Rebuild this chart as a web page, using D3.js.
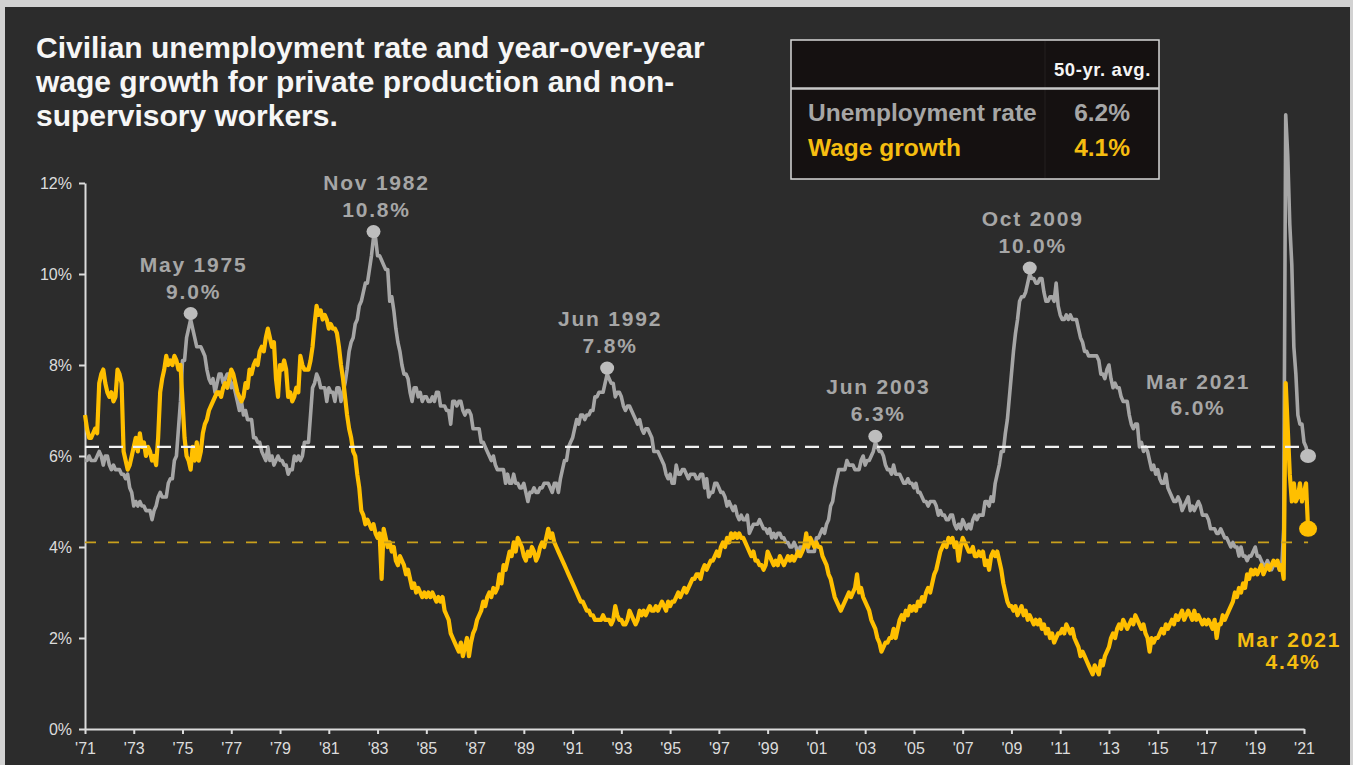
<!DOCTYPE html>
<html>
<head>
<meta charset="utf-8">
<script src="https://cdn.jsdelivr.net/npm/d3@7"></script>
<style>
  html, body { margin: 0; padding: 0; background: #d2d2d2; }
  svg { display: block; }
  text { font-family: "Liberation Sans", Arial, Helvetica, sans-serif; }
</style>
</head>
<body>
<svg id="chart" width="1353" height="765"></svg>
<script>
// ---- Data: monthly series starting January 1971 ----
const startYear = 1971;

// Civilian unemployment rate, %
const unemployment = [
  5.9, 5.9, 6.0, 5.9, 5.9, 5.9, 6.0, 6.1, 6.0, 5.8, 6.0, 6.0,   // 1971
  5.8, 5.7, 5.8, 5.7, 5.7, 5.7, 5.6, 5.6, 5.5, 5.6, 5.3, 5.2,   // 1972
  4.9, 5.0, 4.9, 5.0, 4.9, 4.9, 4.8, 4.8, 4.8, 4.6, 4.8, 4.9,   // 1973
  5.1, 5.2, 5.1, 5.1, 5.1, 5.4, 5.5, 5.5, 5.9, 6.0, 6.6, 7.2,   // 1974
  8.1, 8.1, 8.6, 8.8, 9.0, 8.8, 8.6, 8.4, 8.4, 8.4, 8.3, 8.2,   // 1975
  7.9, 7.7, 7.6, 7.7, 7.4, 7.6, 7.8, 7.8, 7.6, 7.7, 7.8, 7.8,   // 1976
  7.5, 7.6, 7.4, 7.2, 7.0, 7.2, 6.9, 7.0, 6.8, 6.8, 6.8, 6.4,   // 1977
  6.4, 6.3, 6.3, 6.1, 6.0, 5.9, 6.2, 5.9, 6.0, 5.8, 5.9, 6.0,   // 1978
  5.9, 5.9, 5.8, 5.8, 5.6, 5.7, 5.7, 6.0, 5.9, 6.0, 5.9, 6.0,   // 1979
  6.3, 6.3, 6.3, 6.9, 7.5, 7.6, 7.8, 7.7, 7.5, 7.5, 7.5, 7.2,   // 1980
  7.5, 7.4, 7.4, 7.2, 7.5, 7.5, 7.2, 7.4, 7.6, 7.9, 8.3, 8.5,   // 1981
  8.6, 8.9, 9.0, 9.3, 9.4, 9.6, 9.8, 9.8, 10.1, 10.4, 10.8, 10.8, // 1982
  10.4, 10.4, 10.3, 10.2, 10.1, 10.1, 9.4, 9.5, 9.2, 8.8, 8.5, 8.3, // 1983
  8.0, 7.8, 7.8, 7.7, 7.4, 7.2, 7.5, 7.5, 7.3, 7.4, 7.2, 7.3,   // 1984
  7.3, 7.2, 7.2, 7.3, 7.2, 7.4, 7.4, 7.1, 7.1, 7.1, 7.0, 7.0,   // 1985
  6.7, 7.2, 7.2, 7.1, 7.2, 7.2, 7.0, 6.9, 7.0, 7.0, 6.9, 6.6,   // 1986
  6.6, 6.6, 6.6, 6.3, 6.3, 6.2, 6.1, 6.0, 5.9, 6.0, 5.8, 5.7,   // 1987
  5.7, 5.7, 5.7, 5.4, 5.6, 5.4, 5.4, 5.6, 5.4, 5.4, 5.3, 5.3,   // 1988
  5.4, 5.2, 5.0, 5.2, 5.2, 5.3, 5.2, 5.2, 5.3, 5.3, 5.4, 5.4,   // 1989
  5.4, 5.3, 5.2, 5.4, 5.4, 5.2, 5.5, 5.7, 5.9, 5.9, 6.2, 6.3,   // 1990
  6.4, 6.6, 6.8, 6.7, 6.9, 6.9, 6.8, 6.9, 6.9, 7.0, 7.0, 7.3,   // 1991
  7.3, 7.4, 7.4, 7.4, 7.6, 7.8, 7.7, 7.6, 7.6, 7.3, 7.4, 7.4,   // 1992
  7.3, 7.1, 7.0, 7.1, 7.1, 7.0, 6.9, 6.8, 6.7, 6.8, 6.6, 6.5,   // 1993
  6.6, 6.6, 6.5, 6.4, 6.1, 6.1, 6.1, 6.0, 5.9, 5.8, 5.6, 5.5,   // 1994
  5.6, 5.4, 5.4, 5.8, 5.6, 5.6, 5.7, 5.7, 5.6, 5.5, 5.6, 5.6,   // 1995
  5.6, 5.5, 5.5, 5.6, 5.6, 5.3, 5.5, 5.1, 5.2, 5.2, 5.4, 5.4,   // 1996
  5.3, 5.2, 5.2, 5.1, 4.9, 5.0, 4.9, 4.8, 4.9, 4.7, 4.6, 4.7,   // 1997
  4.6, 4.6, 4.7, 4.3, 4.4, 4.5, 4.5, 4.5, 4.6, 4.5, 4.4, 4.4,   // 1998
  4.3, 4.4, 4.2, 4.3, 4.2, 4.3, 4.3, 4.2, 4.2, 4.1, 4.1, 4.0,   // 1999
  4.0, 4.1, 4.0, 3.8, 4.0, 4.0, 4.0, 4.1, 3.9, 3.9, 3.9, 3.9,   // 2000
  4.2, 4.2, 4.3, 4.4, 4.3, 4.5, 4.6, 4.9, 5.0, 5.3, 5.5, 5.7,   // 2001
  5.7, 5.7, 5.7, 5.9, 5.8, 5.8, 5.8, 5.7, 5.7, 5.7, 5.9, 6.0,   // 2002
  5.8, 5.9, 5.9, 6.0, 6.1, 6.3, 6.2, 6.1, 6.1, 6.0, 5.8, 5.7,   // 2003
  5.7, 5.6, 5.8, 5.6, 5.6, 5.6, 5.5, 5.4, 5.4, 5.5, 5.4, 5.4,   // 2004
  5.3, 5.4, 5.2, 5.2, 5.1, 5.0, 5.0, 4.9, 5.0, 5.0, 5.0, 4.9,   // 2005
  4.7, 4.8, 4.7, 4.7, 4.6, 4.6, 4.7, 4.7, 4.5, 4.4, 4.5, 4.4,   // 2006
  4.6, 4.5, 4.4, 4.5, 4.4, 4.6, 4.7, 4.6, 4.7, 4.7, 4.7, 5.0,   // 2007
  5.0, 4.9, 5.1, 5.0, 5.4, 5.6, 5.8, 6.1, 6.1, 6.5, 6.8, 7.3,   // 2008
  7.8, 8.3, 8.7, 9.0, 9.4, 9.5, 9.5, 9.6, 9.8, 10.0, 9.9, 9.9,  // 2009
  9.8, 9.8, 9.9, 9.9, 9.6, 9.4, 9.4, 9.5, 9.5, 9.4, 9.8, 9.3,   // 2010
  9.1, 9.0, 9.0, 9.1, 9.0, 9.1, 9.0, 9.0, 9.0, 8.8, 8.6, 8.5,   // 2011
  8.3, 8.3, 8.2, 8.2, 8.2, 8.2, 8.2, 8.1, 7.8, 7.8, 7.7, 7.9,   // 2012
  8.0, 7.7, 7.5, 7.6, 7.5, 7.5, 7.3, 7.2, 7.2, 7.2, 6.9, 6.7,   // 2013
  6.6, 6.7, 6.7, 6.2, 6.3, 6.1, 6.2, 6.1, 5.9, 5.7, 5.8, 5.6,   // 2014
  5.7, 5.5, 5.4, 5.4, 5.6, 5.3, 5.2, 5.1, 5.0, 5.0, 5.1, 5.0,   // 2015
  4.8, 4.9, 5.0, 5.1, 4.8, 4.9, 4.8, 4.9, 5.0, 4.9, 4.7, 4.7,   // 2016
  4.7, 4.6, 4.4, 4.4, 4.4, 4.3, 4.3, 4.4, 4.3, 4.2, 4.2, 4.1,   // 2017
  4.0, 4.1, 4.0, 4.0, 3.8, 4.0, 3.8, 3.8, 3.7, 3.8, 3.8, 3.9,   // 2018
  4.0, 3.8, 3.8, 3.7, 3.6, 3.6, 3.7, 3.6, 3.5, 3.6, 3.6, 3.6,   // 2019
  3.5, 3.5, 4.4, 13.5, 12.6, 11.1, 10.2, 8.4, 7.8, 6.9, 6.7, 6.7, // 2020
  6.3, 6.2, 6.0                                                  // 2021
];

// Year-over-year wage growth, private production & non-supervisory workers, %
const wageGrowth = [
  6.9, 6.6, 6.4, 6.4, 6.5, 6.6, 6.5, 7.6, 7.8, 7.9, 7.6, 7.4,   // 1971
  7.3, 7.4, 7.2, 7.3, 7.9, 7.8, 7.6, 6.1, 5.9, 5.7, 5.8, 6.0,   // 1972
  6.2, 6.4, 6.1, 6.5, 6.2, 6.3, 6.0, 6.2, 6.1, 5.9, 6.0, 5.8,   // 1973
  6.4, 7.4, 7.7, 7.9, 8.2, 8.0, 8.1, 8.0, 8.2, 8.1, 7.9, 8.0,   // 1974
  7.2, 6.4, 6.0, 5.9, 5.7, 6.2, 5.9, 6.3, 5.9, 6.1, 6.5, 6.7,   // 1975
  6.8, 7.0, 7.1, 7.2, 7.3, 7.4, 7.4, 7.3, 7.5, 7.6, 7.5, 7.7,   // 1976
  7.9, 7.8, 7.6, 7.4, 7.3, 7.2, 7.3, 7.6, 7.5, 7.9, 7.8, 8.0,   // 1977
  8.1, 8.0, 8.3, 8.4, 8.3, 8.6, 8.8, 8.6, 8.4, 8.5, 7.7, 7.3,   // 1978
  8.0, 7.9, 8.1, 7.9, 7.3, 7.4, 7.2, 7.3, 7.5, 7.4, 8.2, 8.0,   // 1979
  7.9, 7.9, 7.9, 8.1, 8.4, 8.9, 9.3, 9.1, 9.2, 9.0, 9.1, 9.0,   // 1980
  8.8, 8.9, 8.8, 8.8, 8.7, 8.4, 8.0, 7.7, 7.3, 6.9, 6.6, 6.4,   // 1981
  6.1, 6.0, 5.6, 5.3, 4.8, 4.7, 4.5, 4.6, 4.5, 4.4, 4.5, 4.3,   // 1982
  4.2, 4.3, 3.3, 4.4, 4.2, 4.0, 4.1, 3.9, 4.0, 3.7, 3.6, 3.8,   // 1983
  3.7, 3.6, 3.4, 3.5, 3.3, 3.1, 3.2, 3.0, 3.1, 3.0, 2.9, 3.0,   // 1984
  2.9, 3.0, 2.9, 3.0, 2.9, 2.8, 2.9, 2.8, 2.9, 2.6, 2.5, 2.4,   // 1985
  2.1, 2.0, 1.9, 1.8, 1.7, 1.9, 1.6, 1.8, 2.0, 1.6, 1.9, 2.1,   // 1986
  2.2, 2.4, 2.5, 2.6, 2.8, 2.7, 2.9, 3.0, 2.9, 3.1, 3.0, 3.1,   // 1987
  3.4, 3.2, 3.6, 3.5, 3.7, 3.9, 3.8, 4.1, 3.9, 4.2, 4.1, 4.0,   // 1988
  3.8, 3.7, 3.9, 3.8, 4.0, 3.9, 3.7, 3.8, 4.0, 4.1, 4.0, 4.2,   // 1989
  4.4, 4.2, 4.3, 4.1, 4.0, 3.9, 3.8, 3.7, 3.6, 3.5, 3.4, 3.3,   // 1990
  3.2, 3.1, 3.0, 2.9, 2.8, 2.8, 2.7, 2.6, 2.6, 2.5, 2.5, 2.4,   // 1991
  2.4, 2.4, 2.4, 2.5, 2.4, 2.4, 2.4, 2.3, 2.4, 2.7, 2.5, 2.4,   // 1992
  2.4, 2.3, 2.3, 2.4, 2.6, 2.5, 2.4, 2.3, 2.4, 2.6, 2.5, 2.6,   // 1993
  2.5, 2.6, 2.7, 2.6, 2.6, 2.7, 2.6, 2.7, 2.8, 2.7, 2.6, 2.8,   // 1994
  2.7, 2.8, 2.8, 2.9, 3.0, 2.9, 3.0, 3.1, 3.0, 3.1, 3.2, 3.3,   // 1995
  3.3, 3.4, 3.4, 3.3, 3.5, 3.6, 3.5, 3.6, 3.7, 3.7, 3.8, 3.9,   // 1996
  3.8, 4.0, 4.1, 4.0, 4.2, 4.1, 4.3, 4.2, 4.3, 4.2, 4.3, 4.2,   // 1997
  4.2, 4.1, 4.0, 3.9, 3.8, 3.9, 3.7, 3.7, 3.6, 3.6, 3.5, 3.6,   // 1998
  3.9, 3.8, 3.7, 3.6, 3.7, 3.6, 3.8, 3.7, 3.6, 3.7, 3.8, 3.7,   // 1999
  3.8, 3.7, 3.8, 3.9, 3.8, 3.9, 4.0, 4.3, 4.0, 4.2, 4.1, 4.0,   // 2000
  4.1, 4.0, 4.0, 3.8, 3.7, 3.6, 3.4, 3.3, 3.1, 2.9, 2.8, 2.7,   // 2001
  2.6, 2.7, 2.8, 2.9, 3.0, 2.9, 3.0, 3.1, 3.4, 3.0, 3.1, 2.9,   // 2002
  2.8, 2.7, 2.6, 2.4, 2.3, 2.2, 2.0, 1.9, 1.7, 1.8, 1.9, 1.9,   // 2003
  2.0, 2.0, 2.2, 2.0, 2.2, 2.4, 2.5, 2.4, 2.6, 2.5, 2.7, 2.6,   // 2004
  2.7, 2.6, 2.8, 2.7, 2.9, 2.8, 3.0, 3.1, 3.0, 3.2, 3.4, 3.5,   // 2005
  3.7, 3.9, 4.0, 4.1, 4.0, 4.2, 4.1, 4.2, 4.0, 4.1, 3.7, 4.0,   // 2006
  4.2, 4.1, 4.0, 3.9, 3.9, 4.0, 3.8, 3.8, 3.9, 3.8, 3.9, 3.6,   // 2007
  3.7, 3.5, 3.8, 3.9, 3.8, 3.9, 3.7, 3.5, 3.2, 3.0, 2.8, 2.7,   // 2008
  2.7, 2.6, 2.7, 2.5, 2.6, 2.7, 2.5, 2.6, 2.4, 2.5, 2.4, 2.3,   // 2009
  2.4, 2.3, 2.4, 2.2, 2.3, 2.1, 2.2, 2.0, 2.1, 1.9, 2.0, 2.1,   // 2010
  2.1, 2.2, 2.1, 2.3, 2.2, 2.1, 2.2, 2.0, 1.9, 1.8, 1.6, 1.7,   // 2011
  1.6, 1.5, 1.4, 1.3, 1.2, 1.4, 1.3, 1.2, 1.5, 1.4, 1.6, 1.7,   // 2012
  1.8, 2.0, 2.1, 2.0, 2.2, 2.3, 2.2, 2.4, 2.3, 2.2, 2.3, 2.4,   // 2013
  2.3, 2.5, 2.4, 2.3, 2.2, 2.3, 2.1, 2.0, 1.7, 2.0, 1.9, 2.0,   // 2014
  2.0, 2.1, 2.2, 2.1, 2.3, 2.2, 2.3, 2.4, 2.3, 2.5, 2.4, 2.5,   // 2015
  2.6, 2.4, 2.5, 2.6, 2.5, 2.4, 2.6, 2.4, 2.5, 2.4, 2.3, 2.4,   // 2016
  2.3, 2.4, 2.3, 2.2, 2.4, 2.0, 2.3, 2.3, 2.5, 2.4, 2.5, 2.6,   // 2017
  2.7, 2.8, 3.0, 2.9, 3.1, 3.0, 3.2, 3.1, 3.4, 3.3, 3.5, 3.4,   // 2018
  3.5, 3.4, 3.5, 3.6, 3.4, 3.5, 3.6, 3.5, 3.6, 3.7, 3.6, 3.7,   // 2019
  3.5, 3.6, 3.3, 7.6, 6.6, 5.6, 5.0, 5.4, 5.0, 5.1, 5.4, 5.0,   // 2020
  5.2, 5.4, 4.4                                                  // 2021
];

// 50-year averages
const averageLabels = ["Unemployment rate", "Wage growth"];
const averageValues = [6.2, 4.1];

// Axis ticks
const yTicks = [0, 2, 4, 6, 8, 10, 12];
const xTickYears = [1971, 1973, 1975, 1977, 1979, 1981, 1983, 1985, 1987, 1989,
  1991, 1993, 1995, 1997, 1999, 2001, 2003, 2005, 2007, 2009,
  2011, 2013, 2015, 2017, 2019, 2021];

// Unemployment peaks that get a marker and a label
const peakNames = ["May 1975", "Nov 1982", "Jun 1992", "Jun 2003", "Oct 2009"];
const peakYears = [1975, 1982, 1992, 2003, 2009];
const peakMonths = [5, 11, 6, 6, 10];

const lastLabel = "Mar 2021";

const titleLines = [
  "Civilian unemployment rate and year-over-year",
  "wage growth for private production and non-",
  "supervisory workers."
];

// ---- Drawing ----
const GRAY = "#a6a6a6";
const GOLD = "#ffbf00";
const GOLD_TEXT = "#f5bd10";
const AXIS = "#dcdcdc";

const svg = d3.select("#chart");

// dark panel with light frame
svg.append("rect").attr("x", 0).attr("y", 0).attr("width", 1353).attr("height", 765).attr("fill", "#d2d2d2");
svg.append("rect").attr("x", 5).attr("y", 7).attr("width", 1345).attr("height", 758).attr("fill", "#2c2c2c");

const monthIndex = (year, month) => (year - startYear) * 12 + (month - 1);
const timeOf = i => startYear + i / 12;

const x = d3.scaleLinear().domain([1971, 2021]).range([85, 1304]);
const y = d3.scaleLinear().domain([0, 12]).range([729, 183]);

// title
svg.append("g").selectAll("text")
  .data(titleLines)
  .join("text")
  .attr("x", 36)
  .attr("y", (d, i) => 58 + i * 34)
  .attr("fill", "#f6f6f6")
  .attr("font-size", 30)
  .attr("font-weight", "bold")
  .text(d => d);

// axes
const yAxis = svg.append("g")
  .attr("transform", "translate(85,0)")
  .call(d3.axisLeft(y).tickValues(yTicks).tickFormat(d => d + "%").tickSize(6).tickSizeOuter(0).tickPadding(7));
const xAxis = svg.append("g")
  .attr("transform", "translate(0,729)")
  .call(d3.axisBottom(x).tickValues(xTickYears).tickFormat(d => "'" + String(d).slice(2)).tickSize(5).tickSizeOuter(0).tickPadding(9));
[yAxis, xAxis].forEach(g => {
  g.select(".domain").attr("stroke", AXIS).attr("stroke-width", 2);
  g.selectAll(".tick line").attr("stroke", AXIS).attr("stroke-width", 2);
  g.selectAll(".tick text")
    .attr("fill", AXIS)
    .attr("font-size", 16)
    .attr("font-family", "'Liberation Sans', Arial, sans-serif");
});

// series lines
const unempPts = unemployment.map((v, i) => [timeOf(i), v]);
const wagePts = wageGrowth.map((v, i) => [timeOf(i), v]);
const line = d3.line().x(d => x(d[0])).y(d => y(d[1])).curve(d3.curveLinear);

svg.append("path")
  .datum(unempPts)
  .attr("d", line)
  .attr("fill", "none")
  .attr("stroke", GRAY)
  .attr("stroke-width", 3.6)
  .attr("stroke-linejoin", "round");

svg.append("path")
  .datum(wagePts)
  .attr("d", line)
  .attr("fill", "none")
  .attr("stroke", GOLD)
  .attr("stroke-width", 4.2)
  .attr("stroke-linejoin", "round");

// 50-year average reference lines
const endT = timeOf(unemployment.length - 1);
svg.append("line")
  .attr("x1", x(1971)).attr("x2", x(endT) - 6)
  .attr("y1", y(averageValues[0])).attr("y2", y(averageValues[0]))
  .attr("stroke", "#f2f2f2").attr("stroke-width", 2.2)
  .attr("stroke-dasharray", "14 10");
svg.append("line")
  .attr("x1", x(1971)).attr("x2", x(endT))
  .attr("y1", y(averageValues[1])).attr("y2", y(averageValues[1]))
  .attr("stroke", "#c9a01c").attr("stroke-width", 1.8)
  .attr("stroke-dasharray", "11 12");

// peak markers and labels
const labelFont = { size: 21, spacing: 1.8 };
peakNames.forEach((name, k) => {
  const i = monthIndex(peakYears[k], peakMonths[k]);
  const v = unemployment[i];
  const cx = x(timeOf(i));
  const cy = y(v);
  svg.append("ellipse")
    .attr("cx", cx).attr("cy", cy - 6)
    .attr("rx", 7).attr("ry", 6.5)
    .attr("fill", "#bdbdbd");
  const g = svg.append("g")
    .attr("fill", GRAY)
    .attr("font-size", labelFont.size)
    .attr("font-weight", "bold")
    .attr("letter-spacing", labelFont.spacing)
    .attr("text-anchor", "middle");
  g.append("text").attr("x", cx + 3).attr("y", cy - 48).text(name);
  g.append("text").attr("x", cx + 3).attr("y", cy - 21).text(v.toFixed(1) + "%");
});

// last observation markers
const lastI = unemployment.length - 1;
const lastX = x(timeOf(lastI));
const uLast = unemployment[lastI];
const wLast = wageGrowth[lastI];

svg.append("ellipse")
  .attr("cx", lastX).attr("cy", y(uLast))
  .attr("rx", 8).attr("ry", 7)
  .attr("fill", "#bdbdbd");
svg.append("ellipse")
  .attr("cx", lastX).attr("cy", y(wLast))
  .attr("rx", 9).attr("ry", 8)
  .attr("fill", GOLD);

const gl = svg.append("g")
  .attr("fill", GRAY)
  .attr("font-size", labelFont.size)
  .attr("font-weight", "bold")
  .attr("letter-spacing", labelFont.spacing)
  .attr("text-anchor", "middle");
gl.append("text").attr("x", lastX - 110).attr("y", y(uLast) - 67).text(lastLabel);
gl.append("text").attr("x", lastX - 110).attr("y", y(uLast) - 41).text(uLast.toFixed(1) + "%");

const wl = svg.append("g")
  .attr("fill", GOLD_TEXT)
  .attr("font-size", labelFont.size)
  .attr("font-weight", "bold")
  .attr("letter-spacing", labelFont.spacing)
  .attr("text-anchor", "middle");
wl.append("text").attr("x", lastX - 19).attr("y", y(wLast) + 118).text(lastLabel);
wl.append("text").attr("x", lastX - 15).attr("y", y(wLast) + 140).text(wLast.toFixed(1) + "%");

// averages table
const box = svg.append("g");
box.append("rect")
  .attr("x", 791).attr("y", 40).attr("width", 368).attr("height", 139)
  .attr("fill", "#151111").attr("stroke", "#d6d6d6").attr("stroke-width", 1.5);
box.append("line")
  .attr("x1", 1045).attr("x2", 1045).attr("y1", 41).attr("y2", 178)
  .attr("stroke", "#242020").attr("stroke-width", 1);
box.append("line")
  .attr("x1", 791).attr("x2", 1159).attr("y1", 88.5).attr("y2", 88.5)
  .attr("stroke", "#c8c8c8").attr("stroke-width", 2.5);
box.append("text")
  .attr("x", 1151).attr("y", 76)
  .attr("text-anchor", "end")
  .attr("fill", "#f4f4f4")
  .attr("font-size", 18.5)
  .attr("font-weight", "bold")
  .attr("letter-spacing", 0.6)
  .text("50-yr. avg.");
const rowColors = [GRAY, GOLD_TEXT];
averageLabels.forEach((lab, k) => {
  box.append("text")
    .attr("x", 808).attr("y", 121 + k * 35)
    .attr("fill", rowColors[k])
    .attr("font-size", 24.5)
    .attr("font-weight", "bold")
    .text(lab);
  box.append("text")
    .attr("x", 1130).attr("y", 121 + k * 35)
    .attr("text-anchor", "end")
    .attr("fill", rowColors[k])
    .attr("font-size", 24.5)
    .attr("font-weight", "bold")
    .text(averageValues[k].toFixed(1) + "%");
});
</script>
</body>
</html>
